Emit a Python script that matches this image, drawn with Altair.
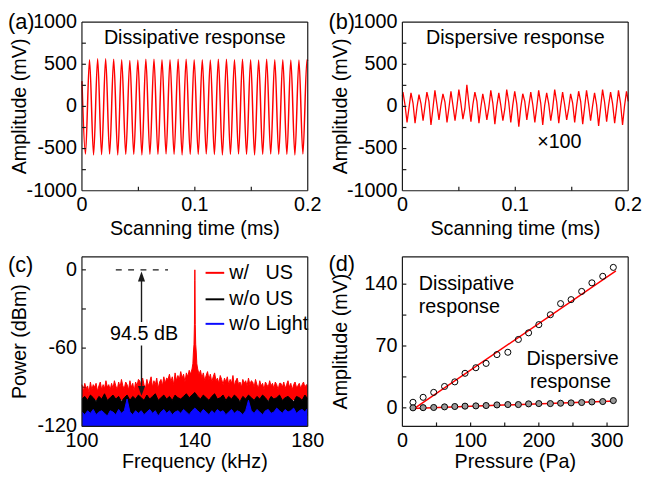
import altair as alt
import pandas as pd

FONT = "Liberation Sans"
RED = "#ff0000"
INK = "#1a1a1a"

# ---------------- (a) dissipative response: extrema of the oscillation ----------------
a_trough_t = [0.0031, 0.0103, 0.0174, 0.0245, 0.0317, 0.0388, 0.0459, 0.0531, 0.0602, 0.0673,
              0.0745, 0.0816, 0.0887, 0.0959, 0.1030, 0.1101, 0.1173, 0.1244, 0.1315, 0.1387,
              0.1458, 0.1529, 0.1601, 0.1672, 0.1743, 0.1815, 0.1886, 0.1957]
a_trough_v = [-565, -575, -570, -565, -575, -570, -570, -575, -570, -570,
              -565, -570, -575, -570, -570, -565, -570, -575, -570, -565,
              -570, -575, -570, -565, -570, -570, -575, -565]
a_peak_t = [0.0067, 0.0139, 0.0210, 0.0281, 0.0352, 0.0424, 0.0495, 0.0566, 0.0638, 0.0709,
            0.0780, 0.0852, 0.0923, 0.0994, 0.1066, 0.1137, 0.1208, 0.1280, 0.1351, 0.1422,
            0.1494, 0.1565, 0.1636, 0.1708, 0.1779, 0.1850, 0.1922, 0.1993]
a_peak_v = [555, 565, 565, 560, 555, 545, 550, 560, 560, 555,
            555, 560, 560, 555, 555, 550, 560, 560, 555, 560,
            555, 550, 560, 555, 555, 550, 550, 555]
a_edge_t = [0.0, 0.2]
a_edge_v = [300, 540]

# ---------------- (b) dispersive response (x100) ----------------
b_start_t = [0.0, 0.0005, 0.0023, 0.0041, 0.0058]
b_start_v = [120, 170, 20, -190, -20]
b_peak_t = [0.0076, 0.0147, 0.0217, 0.0288, 0.0359, 0.0430, 0.0500, 0.0571, 0.0642, 0.0712,
            0.0783, 0.0854, 0.0924, 0.0995, 0.1066, 0.1137, 0.1207, 0.1278, 0.1349, 0.1419,
            0.1490, 0.1561, 0.1631, 0.1702, 0.1773, 0.1844, 0.1914, 0.1985]
b_peak_v = [160, 140, 170, 190, 150, 180, 200, 255, 170, 150,
            190, 160, 200, 180, 150, 170, 190, 160, 200, 170,
            150, 180, 190, 160, 200, 170, 190, 180]
b_fall_t = [0.0094, 0.0165, 0.0235, 0.0306, 0.0377, 0.0448, 0.0518, 0.0589, 0.0660, 0.0730,
            0.0801, 0.0872, 0.0942, 0.1013, 0.1084, 0.1155, 0.1225, 0.1296, 0.1367, 0.1437,
            0.1508, 0.1579, 0.1649, 0.1720, 0.1791, 0.1862, 0.1932]
b_fall_v = [40, 30, 60, 20, 50, 10, 40, 30, 60, 20,
            40, 10, 50, 30, 60, 20, 40, 30, 50, 20,
            40, 60, 30, 20, 50, 30, 40]
b_trough_t = [0.0112, 0.0183, 0.0253, 0.0324, 0.0395, 0.0466, 0.0536, 0.0607, 0.0678, 0.0748,
              0.0819, 0.0890, 0.0960, 0.1031, 0.1102, 0.1173, 0.1243, 0.1314, 0.1385, 0.1455,
              0.1526, 0.1597, 0.1667, 0.1738, 0.1809, 0.1880, 0.1950]
b_trough_v = [-200, -170, -220, -160, -190, -170, -150, -180, -200, -160,
              -210, -170, -190, -240, -160, -190, -220, -170, -200, -160,
              -190, -210, -170, -230, -180, -200, -220]
b_rise_t = [0.0129, 0.0200, 0.0270, 0.0341, 0.0412, 0.0483, 0.0553, 0.0624, 0.0695, 0.0765,
            0.0836, 0.0907, 0.0977, 0.1048, 0.1119, 0.1190, 0.1260, 0.1331, 0.1402, 0.1472,
            0.1543, 0.1614, 0.1684, 0.1755, 0.1826, 0.1897, 0.1967]
b_rise_v = [-10, 0, -30, 10, -20, 0, -30, 20, -10, -20,
            0, -30, 10, -20, 0, -10, 10, -20, 0, -30,
            10, -10, 0, -20, 10, -10, 0]
b_end_t = [0.2]
b_end_v = [60]

# ---------------- (c) spectra ----------------
SERIES = ["w/\u00a0\u00a0\u00a0US", "w/o US", "w/o Light"]
COLORS = ["#ff0000", "#000000", "#0a0aff"]

red_freq = [100, 100.5, 101, 101.5, 102, 102.5, 103, 103.5, 104, 104.5, 105, 105.5, 106, 106.5, 107, 107.5, 108, 108.5, 109, 109.5, 110,
            110.5, 111, 111.5, 112, 112.5, 113, 113.5, 114, 114.5, 115, 115.5, 116, 116.5, 117, 117.5, 118, 118.5, 119, 119.5, 120,
            120.5, 121, 121.5, 122, 122.5, 123, 123.5, 124, 124.5, 125, 125.5, 126, 126.5, 127, 127.5, 128, 128.5, 129, 129.5, 130,
            130.5, 131, 131.5, 132, 132.5, 133, 133.5, 134, 134.5, 135, 135.5, 136, 136.5, 137, 137.5, 138, 138.5, 139,
            139.3, 139.5, 139.7, 139.85, 139.95, 140, 140.05, 140.15, 140.3, 140.5, 140.7,
            141, 141.5, 142, 142.5, 143, 143.5, 144, 144.5, 145, 145.5, 146, 146.5, 147, 147.5, 148, 148.5, 149, 149.5, 150,
            150.5, 151, 151.5, 152, 152.5, 153, 153.5, 154, 154.5, 155, 155.5, 156, 156.5, 157, 157.5, 158, 158.5, 159, 159.5, 160,
            160.5, 161, 161.5, 162, 162.5, 163, 163.5, 164, 164.5, 165, 165.5, 166, 166.5, 167, 167.5, 168, 168.5, 169, 169.5, 170,
            170.5, 171, 171.5, 172, 172.5, 173, 173.5, 174, 174.5, 175, 175.5, 176, 176.5, 177, 177.5, 178, 178.5, 179, 179.5, 180]
red_power = [-88, -93, -87, -91, -89, -94, -86, -92, -88, -90, -87, -93, -89, -86, -92, -88, -91, -85, -90, -88, -92,
             -87, -91, -85, -89, -92, -86, -90, -84, -89, -91, -86, -88, -92, -85, -90, -87, -93, -86, -89, -84,
             -85, -90, -83, -88, -91, -84, -89, -86, -82, -90, -85, -88, -83, -91, -86, -84, -89, -82, -87, -83,
             -84, -80, -86, -82, -88, -79, -85, -81, -84, -78, -83, -80, -86, -79, -82, -77, -80, -76,
             -72, -63, -57, -42, -8, 0, -8, -42, -57, -63, -72,
             -76, -80, -77, -83, -79, -85, -81, -78, -84, -80, -86, -82, -79, -85, -83, -87, -81, -84, -88,
             -83, -86, -82, -88, -84, -87, -81, -89, -85, -83, -88, -86, -90, -84, -87, -85, -89, -83, -88, -85,
             -86, -90, -84, -88, -91, -85, -89, -87, -92, -86, -88, -90, -85, -89, -87, -91, -86, -88, -92, -87,
             -87, -90, -86, -91, -88, -85, -90, -87, -92, -88, -86, -90, -89, -87, -91, -88, -86, -90, -88, -89]

freq_1k = [100, 101, 102, 103, 104, 105, 106, 107, 108, 109, 110, 111, 112, 113, 114, 115, 116, 117, 118, 119, 120,
           121, 122, 123, 124, 125, 126, 127, 128, 129, 130, 131, 132, 133, 134, 135, 136, 137, 138, 139, 140,
           141, 142, 143, 144, 145, 146, 147, 148, 149, 150, 151, 152, 153, 154, 155, 156, 157, 158, 159, 160,
           161, 162, 163, 164, 165, 166, 167, 168, 169, 170, 171, 172, 173, 174, 175, 176, 177, 178, 179, 180]
black_power = [-99, -97, -100, -96, -98, -101, -97, -99, -95, -100, -98, -96, -99, -97, -101, -98, -96, -100, -97, -99, -96,
               -98, -100, -96, -99, -97, -95, -100, -98, -96, -99, -97, -100, -96, -98, -99, -97, -95, -98, -96, -94,
               -97, -99, -96, -98, -100, -97, -95, -99, -98, -96, -100, -97, -99, -96, -98, -101, -97, -99, -96, -98,
               -100, -97, -99, -96, -98, -101, -97, -99, -98, -96, -100, -98, -97, -99, -101, -97, -98, -100, -96, -99]
blue_power = [-109, -111, -108, -110, -107, -111, -109, -108, -110, -112, -108, -109, -111, -107, -110, -108, -99, -109, -111, -108, -110,
              -108, -111, -109, -107, -110, -108, -112, -109, -107, -110, -108, -111, -109, -108, -110, -107, -109, -111, -108, -106,
              -108, -110, -107, -109, -111, -108, -110, -107, -109, -108, -111, -109, -107, -110, -108, -109, -111, -108, -100, -108,
              -110, -107, -109, -111, -108, -107, -110, -109, -106, -108, -110, -107, -109, -108, -106, -110, -108, -107, -109, -106]
band_floor = [-100, -112, -120]

# legend of (c), placed inside the plot
leg_f = [143.8, 150.4, 152.2]
leg_p = [-2.3, -22.6, -41.4]

# annotation of (c)
dash_f = [112.0, 130.5]
dash_p = [0]
arrow_f = [121.1]
arrow_seg_top = [-8, -58]
arrow_seg_bot = [-40, -89]
arrow_tip = [-1.3, -96.6]
db_text = ["94.5 dB"]
db_pos = [122.0, -49.6]

# ---------------- (d) amplitude vs pressure ----------------
pressure = [15.5, 30.4, 45.9, 61.8, 76.8, 91.8, 107.7, 122.7, 138.6, 154.6,
            170.0, 185.0, 200.0, 216.9, 231.9, 247.3, 262.8, 277.8, 293.7, 309.2]
dissipative = [6.3, 11.9, 17.5, 24.2, 29.4, 39.1, 45.4, 50.3, 60.3, 62.9,
               77.4, 84.9, 94.2, 105.4, 118.0, 122.5, 131.8, 141.5, 148.9, 159.0]
dispersive = [0.0, 0.2, 0.4, 1.1, 1.5, 1.9, 2.2, 2.6, 3.3, 3.7,
              3.7, 4.5, 4.8, 4.8, 5.2, 5.6, 6.0, 6.7, 7.1, 8.2]
fit_p = [15, 313]
fit_diss = [-2, 155]
fit_disp = [-0.7, 7.8]
d_text = ["Dissipative", "response", "Dispersive", "response"]
d_text_p = [24, 24, 182, 187]
d_text_a = [133.6, 106.9, 49, 23]

# axis domains, tick values and tick labels
time_dom = [0, 0.2]
amp_dom = [-1000, 1000]
freq_dom = [100, 180]
pow_dom = [-120, 10]
pres_dom = [0, 331]
ampd_dom = [-21, 171]
time_ticks = [0, 0.1, 0.2]
time_ticklabels = ["0", "0.1", "0.2"]
time_minor = [0.05, 0.1, 0.15]
amp_ticks = [-1000, -500, 0, 500, 1000]
amp_ticklabels = ["-1000", "-500", "0", "500", "1000"]
amp_minor = [-750, -500, -250, 0, 250, 500, 750]
freq_ticks = [100, 140, 180]
freq_ticklabels = ["100", "140", "180"]
freq_minor = [120, 140, 160]
pow_ticks = [-120, -60, 0]
pow_ticklabels = ["-120", "-60", "0"]
pow_minor = [-90, -60, -30, 0]
pres_ticks = [0, 100, 200, 300]
pres_ticklabels = ["0", "100", "200", "300"]
pres_minor = [50, 100, 150, 200, 250, 300]
ampd_ticks = [0, 70, 140]
ampd_ticklabels = ["0", "70", "140"]
ampd_minor = [0, 35, 70, 105, 140]

W = 229
H1 = 171
H2 = 172
TICK = 4


def QX(field, scale=None):
    if scale is not None:
        return alt.X(field, type="quantitative", scale=scale, axis=None)
    return alt.X(field, type="quantitative", axis=None)


def QY(field, scale=None):
    if scale is not None:
        return alt.Y(field, type="quantitative", scale=scale, axis=None)
    return alt.Y(field, type="quantitative", axis=None)


def seg_layer(df, width):
    return alt.Chart(df).mark_rule(color=INK, strokeWidth=width).encode(
        x=QX("x"), x2="x2:Q", y=QY("y"), y2="y2:Q")


def frame_rules(xd, yd):
    """Plot frame as four segments at the ends of the panel's scale domains."""
    df = pd.DataFrame({"x": [xd[0], xd[0], xd[0], xd[1]], "x2": [xd[1], xd[1], xd[0], xd[1]],
                       "y": [yd[0], yd[1], yd[0], yd[0]], "y2": [yd[0], yd[1], yd[1], yd[1]]})
    return seg_layer(df, 1.2)


def tick_rules(xminor, yminor, xd, yd, h):
    """Short inward ticks, placed at the tick values through the panel's scales."""
    dy = TICK * (yd[1] - yd[0]) / h
    dx = TICK * (xd[1] - xd[0]) / W
    n, m = len(xminor), len(yminor)
    df = pd.DataFrame({"x": list(xminor) + [xd[0]] * m, "x2": list(xminor) + [xd[0] + dx] * m,
                       "y": [yd[0]] * n + list(yminor), "y2": [yd[0] + dy] * n + list(yminor)})
    return seg_layer(df, 1.2)


def label_layers(xvals, xlabels, xtitle, yvals, ylabels, ytitle, h, title_gap):
    """Tick labels and axis titles of one panel, placed through its scales."""
    txt = dict(font=FONT, fontSize=20, color="black")
    xl = alt.Chart(pd.DataFrame({"x": xvals, "s": xlabels})).mark_text(
        align="center", baseline="alphabetic", **txt).encode(
        x=QX("x"), y=alt.value(h + 20.5), text="s:N")
    yl = alt.Chart(pd.DataFrame({"y": yvals, "s": ylabels})).mark_text(
        align="right", baseline="middle", **txt).encode(
        y=QY("y"), x=alt.value(-5), text="s:N")
    xt = alt.Chart(pd.DataFrame({"s": [xtitle]})).mark_text(
        align="center", baseline="alphabetic", **txt).encode(
        x=alt.value(W / 2), y=alt.value(h + title_gap), text="s:N")
    yt = alt.Chart(pd.DataFrame({"s": [ytitle]})).mark_text(
        align="center", baseline="alphabetic", angle=270, **txt).encode(
        x=alt.value(-56.5), y=alt.value(h / 2), text="s:N")
    return [xl, yl, xt, yt]


def panel_label(txt, dy):
    return alt.Chart(pd.DataFrame({"s": [txt]})).mark_text(
        font=FONT, fontSize=22, align="left", baseline="middle", color="black"
    ).encode(x=alt.value(-75), y=alt.value(dy), text="s:N")


def note(df, align="center", baseline="alphabetic"):
    return alt.Chart(df).mark_text(font=FONT, fontSize=20, align=align, baseline=baseline, color="black").encode(
        x=QX("x"), y=QY("y"), text="s:N")


xs_t = alt.Scale(domain=time_dom, nice=False, zero=False)
ys_mv = alt.Scale(domain=amp_dom, nice=False, zero=False)

# ---- panel (a)
df_a = pd.DataFrame({"x": a_edge_t + a_trough_t + a_peak_t,
                     "y": a_edge_v + a_trough_v + a_peak_v}).sort_values("x")
line_a = alt.Chart(df_a).mark_line(color=RED, strokeWidth=1.5, interpolate="monotone").encode(
    x=QX("x", xs_t), y=QY("y", ys_mv))
text_a = note(pd.DataFrame({"x": [0.1], "y": [743], "s": ["Dissipative response"]}))
panel_a = alt.layer(
    line_a, tick_rules(time_minor, amp_minor, time_dom, amp_dom, H1), text_a, panel_label("(a)", 0),
    *label_layers(time_ticks, time_ticklabels, "Scanning time (ms)", amp_ticks, amp_ticklabels,
                  "Amplitude (mV)", H1, 44.5),
    frame_rules(time_dom, amp_dom),
).properties(width=W, height=H1)

# ---- panel (b)
df_b = pd.DataFrame({"x": b_start_t + b_peak_t + b_fall_t + b_trough_t + b_rise_t + b_end_t,
                     "y": b_start_v + b_peak_v + b_fall_v + b_trough_v + b_rise_v + b_end_v}).sort_values("x")
line_b = alt.Chart(df_b).mark_line(color=RED, strokeWidth=1.3).encode(x=QX("x", xs_t), y=QY("y", ys_mv))
text_b = note(pd.DataFrame({"x": [0.1, 0.139], "y": [743, -494], "s": ["Dispersive response", "\u00d7100"]}))
panel_b = alt.layer(
    line_b, tick_rules(time_minor, amp_minor, time_dom, amp_dom, H1), text_b, panel_label("(b)", 0),
    *label_layers(time_ticks, time_ticklabels, "Scanning time (ms)", amp_ticks, amp_ticklabels,
                  "Amplitude (mV)", H1, 44.5),
    frame_rules(time_dom, amp_dom),
).properties(width=W, height=H1)

# ---- panel (c)
xs_f = alt.Scale(domain=freq_dom, nice=False, zero=False)
ys_p = alt.Scale(domain=pow_dom, nice=False, zero=False)
col_scale = alt.Scale(domain=SERIES, range=COLORS)

spec_frames = [
    pd.DataFrame({"x": red_freq, "y": red_power, "s": SERIES[0], "y0": band_floor[0]}),
    pd.DataFrame({"x": freq_1k, "y": black_power, "s": SERIES[1], "y0": band_floor[1]}),
    pd.DataFrame({"x": freq_1k, "y": blue_power, "s": SERIES[2], "y0": band_floor[2]}),
]
layers_c = []
for i, sdf in enumerate(spec_frames):
    area = alt.Chart(sdf).mark_area(opacity=1).encode(
        x=QX("x", xs_f if i == 0 else None),
        y=alt.Y("y:Q", scale=ys_p, axis=None, stack=None) if i == 0 else alt.Y("y:Q", axis=None, stack=None),
        y2="y0:Q",
        fill=alt.Fill("s:N", scale=col_scale, legend=None),
    )
    edge = alt.Chart(sdf).mark_line(strokeWidth=1).encode(
        x=QX("x"), y=QY("y"), color=alt.Color("s:N", scale=col_scale, legend=None))
    layers_c += [area, edge]

leg_df = pd.DataFrame({"x": [leg_f[0]] * 3, "x2": [leg_f[1]] * 3, "xt": [leg_f[2]] * 3, "y": leg_p, "s": SERIES})
leg_lines = alt.Chart(leg_df).mark_rule(strokeWidth=2).encode(
    x=QX("x"), x2="x2:Q", y=QY("y"), color=alt.Color("s:N", scale=col_scale, legend=None))
leg_text = alt.Chart(leg_df).mark_text(font=FONT, fontSize=20, align="left", baseline="middle", color="black").encode(
    x=QX("xt"), y=QY("y"), text="s:N")

dash_df = pd.DataFrame({"x": [dash_f[0]], "x2": [dash_f[1]], "y": dash_p})
dash = alt.Chart(dash_df).mark_rule(color=INK, strokeWidth=1.3, strokeDash=[6, 6.5]).encode(
    x=QX("x"), x2="x2:Q", y=QY("y"))
seg_df = pd.DataFrame({"x": arrow_f * 2, "y": arrow_seg_top, "y2": arrow_seg_bot})
segs = alt.Chart(seg_df).mark_rule(color=INK, strokeWidth=1.4).encode(x=QX("x"), y=QY("y"), y2="y2:Q")
head_up = alt.Chart(pd.DataFrame({"x": arrow_f, "y": [arrow_tip[0]]})).mark_point(
    shape="M0,0L0.36,1L-0.36,1Z", size=400, filled=True, color=INK, opacity=1, strokeWidth=0).encode(
    x=QX("x"), y=QY("y"))
head_dn = alt.Chart(pd.DataFrame({"x": arrow_f, "y": [arrow_tip[1]]})).mark_point(
    shape="M0,0L0.36,-1L-0.36,-1Z", size=400, filled=True, color=INK, opacity=1, strokeWidth=0).encode(
    x=QX("x"), y=QY("y"))
text_c = note(pd.DataFrame({"x": [db_pos[0]], "y": [db_pos[1]], "s": db_text}), baseline="middle")
panel_c = alt.layer(
    layers_c[0], tick_rules(freq_minor, pow_minor, freq_dom, pow_dom, H2), *layers_c[1:],
    leg_lines, leg_text, dash, segs, head_up, head_dn, text_c, panel_label("(c)", 8),
    *label_layers(freq_ticks, freq_ticklabels, "Frequency (kHz)", pow_ticks, pow_ticklabels,
                  "Power (dBm)", H2, 42.5),
    frame_rules(freq_dom, pow_dom),
).properties(width=W, height=H2)

# ---- panel (d)
xs_pa = alt.Scale(domain=pres_dom, nice=False, zero=False)
ys_d = alt.Scale(domain=ampd_dom, nice=False, zero=False)
df_d = pd.DataFrame({"x": pressure, "diss": dissipative, "disp": dispersive})
df_fit = pd.DataFrame({"x": fit_p, "diss": fit_diss, "disp": fit_disp})
fit1 = alt.Chart(df_fit).mark_line(color=RED, strokeWidth=1.5).encode(x=QX("x", xs_pa), y=QY("diss", ys_d))
fit2 = alt.Chart(df_fit).mark_line(color=RED, strokeWidth=1.5).encode(x=QX("x"), y=QY("disp"))
pts1 = alt.Chart(df_d).mark_point(shape="circle", size=38, filled=False, color="black", strokeWidth=1,
                                  opacity=1).encode(x=QX("x"), y=QY("diss"))
pts2 = alt.Chart(df_d).mark_point(shape="circle", size=38, filled=True, fill="#9a9a9a", stroke="black",
                                  strokeWidth=1, opacity=1).encode(x=QX("x"), y=QY("disp"))
text_d = note(pd.DataFrame({"x": d_text_p, "y": d_text_a, "s": d_text}), align="left")
panel_d = alt.layer(
    fit1, tick_rules(pres_minor, ampd_minor, pres_dom, ampd_dom, H2), fit2, pts1, pts2, text_d,
    panel_label("(d)", 7),
    *label_layers(pres_ticks, pres_ticklabels, "Pressure (Pa)", ampd_ticks, ampd_ticklabels,
                  "Amplitude (mV)", H2, 42.5),
    frame_rules(pres_dom, ampd_dom),
).properties(width=W, height=H2)

chart = alt.concat(panel_a, panel_b, panel_c, panel_d, columns=2,
                   spacing={"row": 67, "column": 96}, bounds="flush").properties(
    padding={"left": 0, "top": 0, "right": 0, "bottom": 0}
).configure_view(strokeWidth=0)

chart.save("out.html", embed_options={"renderer": "svg", "actions": False})
